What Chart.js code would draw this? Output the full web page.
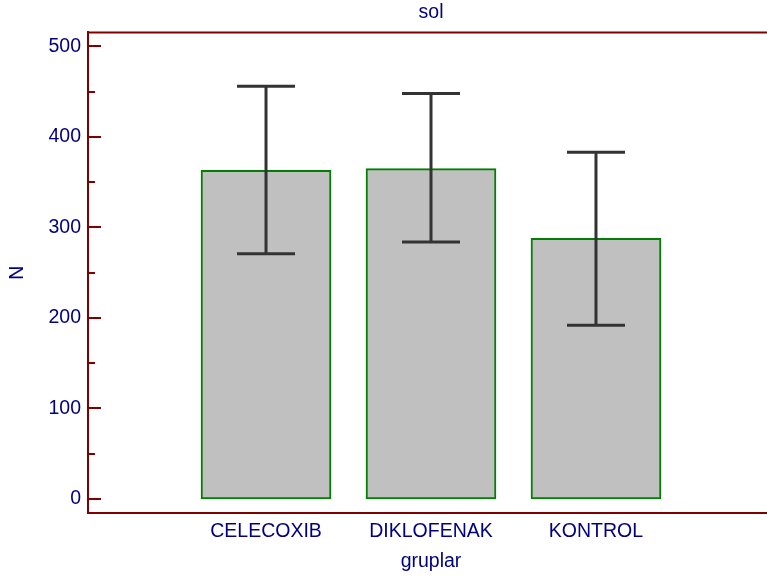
<!DOCTYPE html>
<html><head><meta charset="utf-8">
<script src="https://cdn.jsdelivr.net/npm/chart.js@4/dist/chart.umd.min.js"></script>
<style>
html,body{margin:0;padding:0;overflow:hidden;background:#fff;width:767px;height:576px}
#wrap{width:775px;height:576px}
canvas{display:block}
</style></head>
<body><div id="wrap"><canvas id="c" width="775" height="576"></canvas></div>
<script>
// ---- data ----
const categories = ['CELECOXIB', 'DIKLOFENAK', 'KONTROL'];
const means = [363, 365, 288];
const errLow = [271, 284, 192];
const errHigh = [456, 448, 383];
const yTickValues = [0, 100, 200, 300, 400, 500];
const yMinorValues = [50, 150, 250, 350, 450];
const titleText = 'sol';
const xTitle = 'gruplar';
const yTitle = 'N';

// ---- styles ----
const NAVY = '#000080';
const AXIS = '#800000';
const FONT = {family: '"Liberation Sans", Arial, sans-serif', size: 19.5, weight: 'normal'};

const overlay = {
  id: 'overlay',
  afterDatasetsDraw(chart) {
    const xs = chart.scales.x, ys = chart.scales.y, ctx = chart.ctx;
    ctx.save();
    ctx.strokeStyle = '#333333';
    ctx.lineWidth = 3;
    ctx.lineCap = 'butt';
    categories.forEach((c, i) => {
      const x = xs.getPixelForValue(i + 1);
      const yh = ys.getPixelForValue(errHigh[i]);
      const yl = ys.getPixelForValue(errLow[i]);
      ctx.beginPath();
      ctx.moveTo(x, yh); ctx.lineTo(x, yl);
      ctx.moveTo(x - 29, yh); ctx.lineTo(x + 29, yh);
      ctx.moveTo(x - 29, yl); ctx.lineTo(x + 29, yl);
      ctx.stroke();
    });
    ctx.restore();
  },
  afterDraw(chart) {
    const ys = chart.scales.y, ctx = chart.ctx, a = chart.chartArea;
    ctx.save();
    ctx.strokeStyle = AXIS;
    ctx.lineWidth = 2;
    ctx.beginPath();
    ctx.moveTo(a.left - 1, a.top); ctx.lineTo(a.right + 2, a.top);
    yTickValues.forEach(v => {
      const y = Math.round(ys.getPixelForValue(v));
      ctx.moveTo(a.left, y); ctx.lineTo(a.left + 13, y);
    });
    yMinorValues.forEach(v => {
      const y = Math.round(ys.getPixelForValue(v));
      ctx.moveTo(a.left, y); ctx.lineTo(a.left + 7, y);
    });
    ctx.stroke();
    ctx.restore();
  }
};

new Chart(document.getElementById('c'), {
  type: 'bar',
  data: {
    datasets: [{
      data: categories.map((c, i) => ({x: i + 1, y: means[i]})),
      backgroundColor: '#c0c0c0',
      borderColor: '#008000',
      borderWidth: 2,
      borderSkipped: false,
      barThickness: 130
    }]
  },
  options: {
    responsive: false,
    animation: false,
    devicePixelRatio: 1,
    layout: {padding: {left: 0, right: 1, top: 0, bottom: 0}},
    plugins: {
      legend: {display: false},
      tooltip: {enabled: false},
      title: {display: true, text: titleText, fullSize: false, color: NAVY, font: FONT, padding: {top: 1, bottom: 8}}
    },
    scales: {
      x: {
        type: 'linear', min: -0.079, max: 4.079, offset: false,
        grid: {display: false, drawTicks: false, offset: false},
        border: {display: true, color: AXIS, width: 2},
        afterBuildTicks: s => { s.ticks = categories.map((c, i) => ({value: i + 1})); },
        ticks: {callback: v => categories[v - 1], color: NAVY, font: FONT, padding: 7, autoSkip: false, maxRotation: 0},
        title: {display: true, text: xTitle, color: NAVY, font: FONT, padding: {top: 0, bottom: 3}},
        afterFit: s => { s.height = 63; }
      },
      y: {
        type: 'linear', min: -15.5, max: 515.5,
        grid: {display: false, drawTicks: false},
        border: {display: true, color: AXIS, width: 2},
        afterBuildTicks: s => { s.ticks = yTickValues.map(v => ({value: v})); },
        ticks: {color: NAVY, font: FONT, padding: 7},
        title: {display: true, text: yTitle, color: NAVY, font: FONT, padding: {top: 5.6, bottom: 0}},
        afterFit: s => { s.width = 88; }
      }
    }
  },
  plugins: [overlay]
});
</script>
</body></html>
